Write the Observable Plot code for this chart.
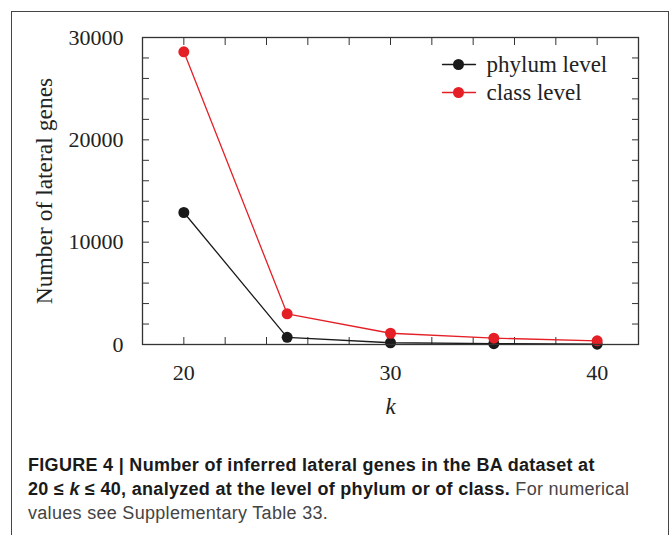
<!DOCTYPE html>
<html><head><meta charset="utf-8">
<script src="https://cdn.jsdelivr.net/npm/d3@7"></script>
<script src="https://cdn.jsdelivr.net/npm/@observablehq/plot@0.6"></script>
<style>
body{margin:0;background:#fff;}
#fig{position:absolute;left:11px;top:11px;width:656px;height:560px;border:1px solid #444;}
#chart{position:absolute;left:0;top:0;}
#cap{position:absolute;left:16px;top:441px;font-family:"Liberation Sans",Arial,sans-serif;font-size:18px;letter-spacing:0.3px;line-height:24px;color:#444;white-space:nowrap;}
#cap b{font-weight:bold;color:#1a1a1a}
</style></head><body>
<div id="fig"><div id="chart"></div>
<div id="cap"><b>FIGURE 4 | Number of inferred lateral genes in the BA dataset at<br>20 ≤ <i>k</i> ≤ 40, analyzed at the level of phylum or of class.</b> For numerical<br>values see Supplementary Table 33.</div>
</div>
<script>
const kValues = [20, 25, 30, 35, 40];
const phylumLevel = [12900, 700, 170, 80, 30];
const classLevel = [28600, 3000, 1100, 620, 360];
const seriesNames = ["phylum level", "class level"];
const seriesColors = ["#1a1a1a", "#e41f26"];
const yTicks = d3.range(0, 30001, 2000);
const yLabels = [0, 10000, 20000, 30000];
const xTicks = d3.range(20, 41, 2);
const xLabels = [20, 30, 40];
const xTitle = "k";
const yTitle = "Number of lateral genes";

const seriesValues = [phylumLevel, classLevel];
const tables = seriesValues.map((vals, i) => kValues.map((k, j) => ({k, n: vals[j], s: seriesNames[i]})));

const tickStyle = {stroke: "#333", strokeWidth: 1, tickSize: -7, tickFormat: () => "", label: null};
const legendShape = {draw(context, l) { context.moveTo(0, 0); context.lineTo(0, -l); }};

const marks = [
  Plot.axisY(yTicks, {...tickStyle, anchor: "left"}),
  Plot.axisY(yTicks, {...tickStyle, anchor: "right"}),
  Plot.axisX(xTicks, {...tickStyle, anchor: "bottom"}),
  Plot.axisX(xTicks, {...tickStyle, anchor: "top"}),
  Plot.axisY(yLabels, {anchor: "left", tickSize: 0, tickPadding: 19, label: null, tickFormat: d => String(d), fill: "#222", fontSize: 22}),
  Plot.axisX(xLabels, {anchor: "bottom", tickSize: 0, tickPadding: 20, label: null, tickFormat: d => String(d), fill: "#222", fontSize: 22}),
  Plot.text([yTitle], {frameAnchor: "left", dx: -98, rotate: -90, lineAnchor: "middle", textAnchor: "middle", fill: "#222", fontSize: 23.5}),
  Plot.text([xTitle], {frameAnchor: "bottom", dy: 69, lineAnchor: "bottom", fontStyle: "italic", fill: "#222", fontSize: 23}),
];
tables.forEach((t, i) => {
  marks.push(Plot.line(t, {x: "k", y: "n", stroke: seriesColors[i], strokeWidth: 1.3}));
  marks.push(Plot.dot(t, {x: "k", y: "n", fill: seriesColors[i], r: 5.5}));
});
seriesNames.forEach((name, i) => {
  const dy = 27 + i * 28;
  marks.push(Plot.vector([name], {frameAnchor: "top-right", dx: -196, dy, length: 33, rotate: 90, anchor: "start", stroke: seriesColors[i], strokeWidth: 1.3, shape: legendShape}));
  marks.push(Plot.dot([name], {frameAnchor: "top-right", dx: -180, dy, r: 5.5, fill: seriesColors[i]}));
  marks.push(Plot.text([name], {frameAnchor: "top-right", dx: -152, dy, textAnchor: "start", lineAnchor: "middle", fill: "#222", fontSize: 23}));
});
marks.push(Plot.frame({stroke: "#333", strokeWidth: 1.3}));

const chart = Plot.plot({
  width: 656, height: 408,
  marginLeft: 130, marginRight: 30, marginTop: 25, marginBottom: 76,
  x: {domain: [18, 42]},
  y: {domain: [0, 30000]},
  style: {fontFamily: "'Liberation Serif', serif", fontSize: "21px", background: "transparent", color: "#222"},
  marks
});
document.getElementById("chart").appendChild(chart);
</script>
</body></html>
